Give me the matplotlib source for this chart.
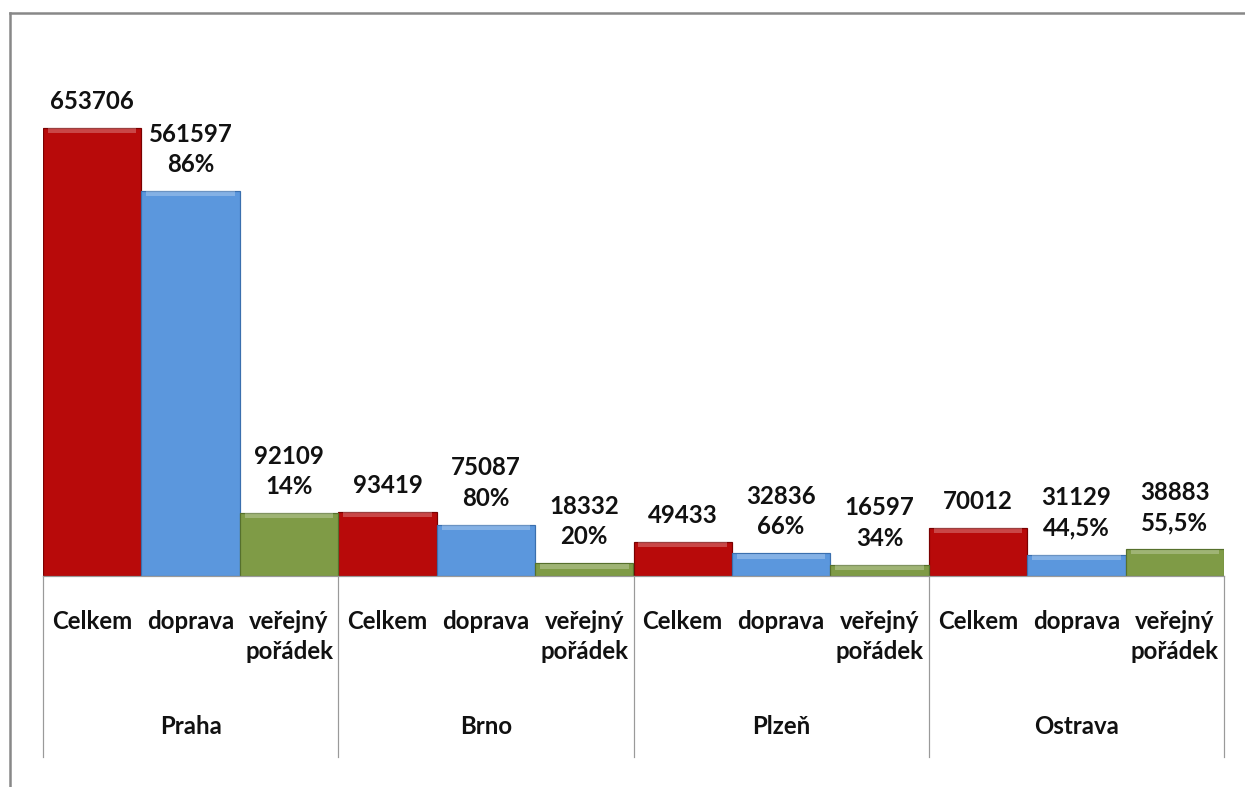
import numpy as np
import matplotlib
matplotlib.use("Agg")
import matplotlib.pyplot as plt
import matplotlib.transforms as mtransforms

# data
cities = ["Praha", "Brno", "Plzeň", "Ostrava"]
series = ["Celkem", "doprava", "veřejný\npořádek"]
celkem = [653706, 93419, 49433, 70012]
doprava = [561597, 75087, 32836, 31129]
poradek = [92109, 18332, 16597, 38883]
pct_doprava = ["86%", "80%", "66%", "44,5%"]
pct_poradek = ["14%", "20%", "34%", "55,5%"]

colors = ["#B80A0A", "#5B97DD", "#7F9B46"]
edges = ["#7A0000", "#3A6FAE", "#56702C"]

W, H = 1245, 787
fig = plt.figure(figsize=(W / 72, H / 72), dpi=72)
plt.rcParams['font.family'] = ['Lato', 'DejaVu Sans']
FS = 24

# plot area in pixel coords
left, right, base = 43, 1224, 576
ymax = 700000
top = base - 448 * ymax / 653706
ax = fig.add_axes([left / W, 1 - base / H, (right - left) / W, (base - top) / H])

n_groups = len(cities)
x = np.arange(n_groups)
bw = 1 / 3
vals = [celkem, doprava, poradek]
for k in range(3):
    ax.bar(x + (k - 1) * bw, vals[k], width=bw, color=colors[k],
           edgecolor=edges[k], linewidth=1.2, zorder=2)
    # lighter top bevel strip
    ax.bar(x + (k - 1) * bw, [7000] * n_groups, width=bw * 0.9,
           bottom=[v - 7500 for v in vals[k]], color="white", alpha=0.25,
           linewidth=0, zorder=3)

ax.set_xlim(-0.5, n_groups - 0.5)
ax.set_ylim(0, ymax)
for s in ["top", "right", "left"]:
    ax.spines[s].set_visible(False)
ax.spines["bottom"].set_color("#9a9a9a")
ax.spines["bottom"].set_linewidth(1.2)
ax.set_xticks([])
ax.set_yticks([])
ax.patch.set_alpha(0)

# value labels above bars
for i in range(n_groups):
    labels = [str(celkem[i]),
              f"{doprava[i]}\n{pct_doprava[i]}",
              f"{poradek[i]}\n{pct_poradek[i]}"]
    for k in range(3):
        ax.annotate(labels[k], (x[i] + (k - 1) * bw, vals[k][i]),
                    xytext=(0, 15), textcoords="offset points",
                    ha="center", va="bottom", fontsize=FS, fontweight="bold",
                    linespacing=1.38, color="#111111")

# category axis labels
trans = mtransforms.blended_transform_factory(ax.transData, fig.transFigure)
for i in range(n_groups):
    for k in range(3):
        ax.text(x[i] + (k - 1) * bw, 1 - 610 / H, series[k], transform=trans,
                ha="center", va="top", fontsize=FS, fontweight="bold",
                linespacing=1.38, color="#111111")
    ax.text(x[i], 1 - 727 / H, cities[i], transform=trans, ha="center",
            va="center", fontsize=FS, fontweight="bold", color="#111111")

for b in np.arange(-0.5, n_groups, 1.0):
    ax.plot([b, b], [1 - base / H, 1 - 757 / H], transform=trans,
            color="#9a9a9a", linewidth=1.2, clip_on=False)

# outer chart border (top and left visible)
fig.add_artist(plt.Line2D([10 / W, 1], [1 - 13 / H, 1 - 13 / H],
                          transform=fig.transFigure, color="#888888", linewidth=2.5))
fig.add_artist(plt.Line2D([10 / W, 10 / W], [0, 1 - 13 / H],
                          transform=fig.transFigure, color="#888888", linewidth=2.5))

fig.savefig("out.png", dpi=72, facecolor="white")
